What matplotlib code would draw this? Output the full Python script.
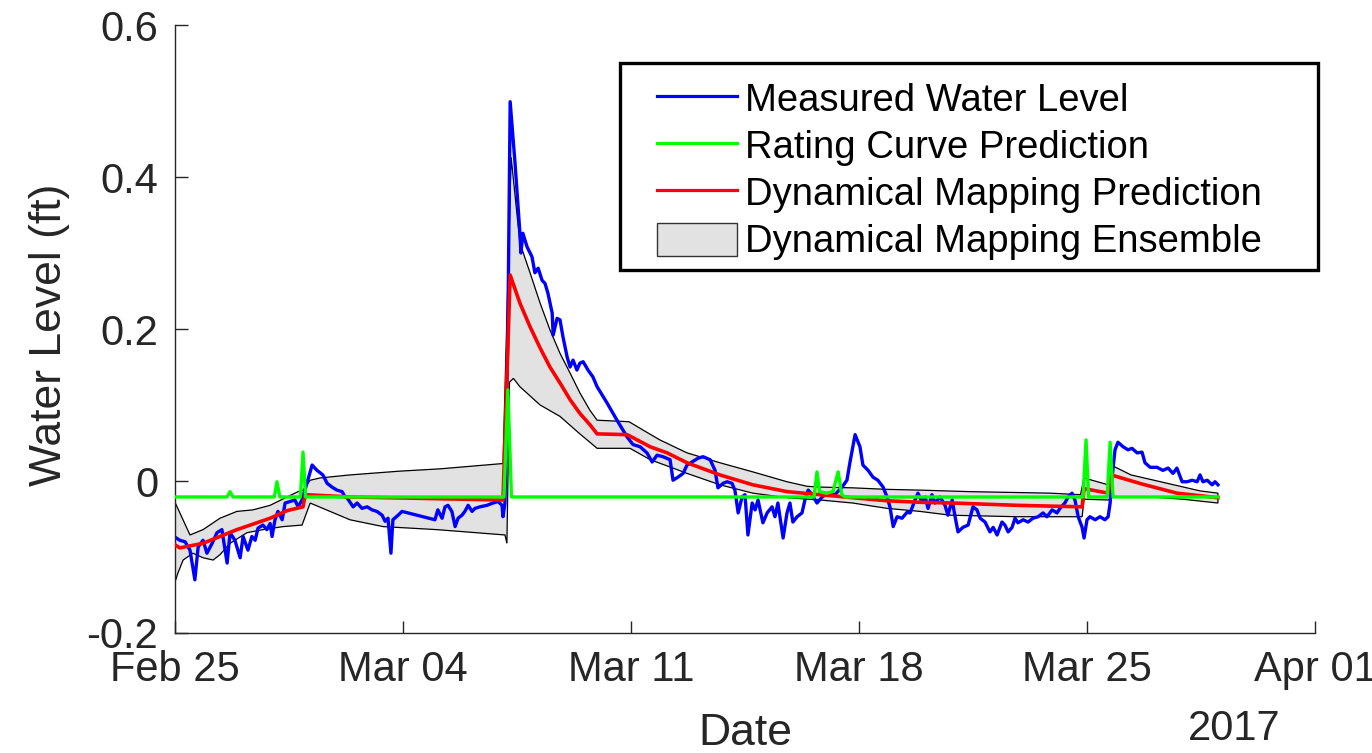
import matplotlib
matplotlib.use("Agg")
import matplotlib.pyplot as plt
import matplotlib.dates as mdates
from matplotlib.patches import Rectangle, Patch
from matplotlib.lines import Line2D
import numpy as np
import pandas as pd

plt.rcParams['font.family'] = ['Liberation Sans', 'DejaVu Sans']

start = pd.Timestamp('2017-02-25')

# days after Feb 25 2017, water level in ft
meas_days = [0.00, 0.15, 0.31, 0.46, 0.61, 0.71, 0.86, 0.98, 1.14, 1.29, 1.44, 1.60, 1.69, 1.84,
             2.00, 2.09, 2.24, 2.36, 2.46, 2.55, 2.70, 2.82, 2.92, 2.98, 3.07, 3.16, 3.29, 3.38,
             3.53, 3.68, 3.78, 3.90, 4.05, 4.21, 4.36, 4.54, 4.67, 4.82, 4.97, 5.13, 5.22, 5.28,
             5.47, 5.59, 5.74, 5.90, 6.05, 6.20, 6.36, 6.45, 6.54, 6.63, 6.69, 6.85, 6.97, 7.43,
             7.98, 8.07, 8.20, 8.29, 8.38, 8.50, 8.60, 8.69, 8.81, 8.90, 9.00, 9.12, 9.21, 9.36,
             9.58, 9.76, 9.92, 10.04, 10.07, 10.13, 10.22, 10.29, 10.44, 10.59, 10.62, 10.68,
             10.81, 10.96, 11.05, 11.15, 11.27, 11.36, 11.45, 11.58, 11.61, 11.73, 11.82, 11.91,
             12.04, 12.13, 12.22, 12.34, 12.43, 12.53, 12.68, 12.83, 12.96, 13.26, 13.57, 13.88,
             14.06, 14.28, 14.49, 14.65, 14.80, 14.98, 15.20, 15.29, 15.44, 15.60, 15.72, 15.87,
             16.06, 16.21, 16.43, 16.58, 16.67, 16.83, 16.95, 17.10, 17.19, 17.29, 17.41, 17.50,
             17.59, 17.72, 17.81, 17.90, 18.05, 18.18, 18.33, 18.42, 18.51, 18.67, 18.79, 18.88,
             18.97, 19.10, 19.25, 19.34, 19.44, 19.56, 19.71, 19.87, 20.05, 20.26, 20.48, 20.63,
             20.72, 20.88, 21.03, 21.12, 21.28, 21.43, 21.58, 21.74, 21.86, 21.95, 22.05, 22.17,
             22.32, 22.48, 22.57, 22.72, 22.81, 22.94, 23.03, 23.12, 23.24, 23.33, 23.49, 23.64,
             23.73, 23.86, 23.95, 24.04, 24.19, 24.35, 24.50, 24.62, 24.72, 24.87, 25.02, 25.12,
             25.24, 25.39, 25.48, 25.58, 25.70, 25.79, 25.88, 26.04, 26.19, 26.34, 26.50, 26.65,
             26.77, 26.93, 27.08, 27.17, 27.32, 27.42, 27.54, 27.63, 27.73, 27.85, 27.91, 28.00,
             28.09, 28.25, 28.40, 28.55, 28.65, 28.71, 28.77, 28.86, 28.95, 29.11, 29.26, 29.38,
             29.54, 29.69, 29.78, 29.94, 30.15, 30.33, 30.49, 30.64, 30.76, 30.92, 31.07, 31.23,
             31.38, 31.47, 31.56, 31.69, 31.84, 31.93, 32.02]
meas_level = [-0.074, -0.078, -0.080, -0.091, -0.130, -0.087, -0.078, -0.095, -0.082, -0.068,
              -0.064, -0.108, -0.068, -0.078, -0.101, -0.073, -0.091, -0.073, -0.078, -0.062,
              -0.058, -0.064, -0.056, -0.073, -0.051, -0.040, -0.051, -0.029, -0.027, -0.025,
              -0.034, -0.025, -0.003, 0.021, 0.014, 0.008, -0.003, -0.008, -0.012, -0.014,
              -0.021, -0.022, -0.034, -0.029, -0.036, -0.034, -0.038, -0.040, -0.045, -0.053,
              -0.049, -0.095, -0.051, -0.045, -0.040, -0.045, -0.051, -0.038, -0.049, -0.034,
              -0.032, -0.040, -0.060, -0.049, -0.045, -0.040, -0.032, -0.040, -0.036, -0.034,
              -0.032, -0.029, -0.027, -0.032, -0.047, -0.029, 0.200, 0.499, 0.418, 0.326,
              0.300, 0.326, 0.308, 0.295, 0.274, 0.280, 0.264, 0.260, 0.247, 0.221, 0.192,
              0.214, 0.212, 0.190, 0.163, 0.150, 0.159, 0.146, 0.155, 0.157, 0.146, 0.137,
              0.124, 0.103, 0.080, 0.058, 0.048, 0.045, 0.037, 0.025, 0.034, 0.032, 0.028,
              0.001, 0.005, 0.010, 0.021, 0.025, 0.030, 0.032, 0.028, 0.014, -0.009, -0.003,
              -0.001, -0.003, -0.012, -0.042, -0.021, -0.018, -0.071, -0.029, -0.038, -0.025,
              -0.055, -0.042, -0.034, -0.047, -0.029, -0.075, -0.042, -0.029, -0.054, -0.047,
              -0.042, -0.025, -0.012, -0.018, -0.029, -0.021, -0.016, -0.018, -0.008, 0.001,
              0.024, 0.061, 0.045, 0.021, 0.014, 0.005, 0.001, -0.008, -0.021, -0.034, -0.060,
              -0.047, -0.049, -0.041, -0.042, -0.025, -0.016, -0.028, -0.021, -0.036, -0.018,
              -0.029, -0.021, -0.032, -0.045, -0.025, -0.047, -0.067, -0.061, -0.058, -0.034,
              -0.038, -0.049, -0.054, -0.067, -0.061, -0.071, -0.054, -0.058, -0.067, -0.061,
              -0.049, -0.055, -0.051, -0.054, -0.049, -0.047, -0.042, -0.047, -0.038, -0.042,
              -0.036, -0.029, -0.021, -0.016, -0.025, -0.047, -0.061, -0.075, -0.051, -0.047,
              -0.051, -0.047, -0.051, -0.047, -0.029, 0.005, 0.041, 0.051, 0.045, 0.041,
              0.043, 0.037, 0.038, 0.024, 0.018, 0.018, 0.014, 0.017, 0.010, 0.017, -0.001,
              -0.001, 0.001, -0.001, 0.008, -0.001, 0.001, -0.005, -0.001, -0.005]

rating_days = [0.00, 1.60, 1.69, 1.78, 3.05, 3.13, 3.22, 3.85, 3.93, 4.01, 10.10, 10.22, 10.33,
               19.62, 19.71, 19.79, 20.00, 20.20, 20.36, 20.47, 20.58, 27.88, 27.97, 28.05,
               28.62, 28.71, 28.80, 32.02]
rating_level = [-0.021, -0.021, -0.014, -0.021, -0.021, -0.001, -0.021, -0.021, 0.038, -0.021,
                -0.021, 0.120, -0.021, -0.021, 0.012, -0.014, -0.016, -0.014, 0.012, -0.018,
                -0.021, -0.021, 0.054, -0.021, -0.021, 0.051, -0.021, -0.021]

dm_days = [0.00, 0.15, 0.86, 1.90, 2.92, 3.44, 3.93, 4.00, 5.37, 10.07, 10.29, 10.59, 10.90,
           11.21, 11.51, 11.82, 12.13, 12.43, 12.74, 12.96, 13.88, 14.06, 14.59, 15.11, 15.72,
           16.73, 17.74, 18.79, 19.80, 20.81, 21.86, 22.87, 23.89, 25.85, 27.85, 27.91, 28.65,
           28.74, 29.69, 30.76, 32.02]
dm_level = [-0.084, -0.088, -0.082, -0.064, -0.049, -0.039, -0.034, -0.018, -0.021, -0.025,
            0.271, 0.234, 0.203, 0.175, 0.150, 0.129, 0.107, 0.089, 0.074, 0.062, 0.061, 0.057,
            0.045, 0.037, 0.024, 0.008, -0.005, -0.014, -0.018, -0.022, -0.026, -0.028, -0.029,
            -0.032, -0.034, -0.010, -0.016, 0.008, -0.004, -0.016, -0.022]

ens_hi_days = [0.00, 0.46, 0.86, 1.38, 1.90, 2.39, 2.92, 3.44, 3.78, 3.93, 4.15, 4.45, 5.37,
               6.91, 8.14, 10.07, 10.32, 10.59, 10.90, 11.21, 11.51, 11.82, 12.13, 12.43, 12.74,
               12.96, 13.94, 14.37, 14.89, 15.72, 16.73, 17.74, 18.79, 19.41, 19.80, 20.81,
               21.86, 22.87, 24.40, 26.87, 27.80, 27.91, 28.65, 28.74, 29.35, 30.46, 31.47, 32.02]
ens_hi = [-0.028, -0.071, -0.064, -0.049, -0.040, -0.038, -0.032, -0.021, -0.014, -0.012,
          0.001, 0.004, 0.008, 0.013, 0.016, 0.023, 0.426, 0.313, 0.274, 0.234, 0.199, 0.168,
          0.142, 0.116, 0.093, 0.080, 0.078, 0.067, 0.054, 0.037, 0.024, 0.012, -0.001, -0.007,
          -0.008, -0.009, -0.011, -0.012, -0.014, -0.016, -0.018, 0.004, -0.005, 0.021, 0.008,
          -0.003, -0.013, -0.016]

ens_lo_days = [0.00, 0.09, 0.25, 0.55, 0.86, 1.17, 1.38, 1.69, 2.21, 2.70, 3.32, 3.90, 4.15,
               4.76, 5.37, 6.39, 8.04, 10.13, 10.19, 10.27, 10.39, 10.59, 11.21, 11.82, 12.43,
               12.96, 13.97, 14.59, 15.29, 15.72, 16.73, 17.74, 18.79, 19.80, 20.81, 21.86,
               22.87, 23.80, 25.85, 27.85, 27.91, 28.65, 28.80, 29.94, 30.95, 32.02]
ens_lo = [-0.133, -0.121, -0.104, -0.095, -0.101, -0.104, -0.097, -0.082, -0.068, -0.064,
          -0.060, -0.058, -0.029, -0.040, -0.051, -0.060, -0.064, -0.071, -0.082, 0.130, 0.135,
          0.124, 0.100, 0.085, 0.062, 0.043, 0.043, 0.028, 0.017, 0.010, -0.005, -0.016,
          -0.022, -0.025, -0.029, -0.036, -0.040, -0.045, -0.047, -0.047, -0.024, -0.025,
          -0.021, -0.021, -0.024, -0.029]

y_ticks = [-0.2, 0, 0.2, 0.4, 0.6]
y_ticklabels = ['-0.2', '0', '0.2', '0.4', '0.6']
x_ticks = ['2017-02-25', '2017-03-04', '2017-03-11', '2017-03-18', '2017-03-25', '2017-04-01']


def to_dates(days):
    return (start + pd.to_timedelta(np.array(days), unit='D')).to_numpy()


fig = plt.figure(figsize=(13.72, 7.53), dpi=100)
ax = fig.add_axes([175 / 1372, 1 - 633 / 753, 1140 / 1372, 608 / 753])

axcol = '#262626'
band_x = np.concatenate([to_dates(ens_hi_days), to_dates(ens_lo_days)[::-1]])
band_y = np.concatenate([ens_hi, ens_lo[::-1]])
ax.fill(band_x, band_y, facecolor='#e2e2e2', edgecolor='black', linewidth=0.9, zorder=1)

ax.plot(to_dates(meas_days), meas_level, color=(0, 0, 1), lw=2.4, zorder=2)
ax.plot(to_dates(dm_days), dm_level, color=(1, 0, 0), lw=2.6, zorder=3)
ax.plot(to_dates(rating_days), rating_level, color=(0, 1, 0), lw=2.4, zorder=3)

ax.set_ylim(-0.2, 0.6)
ax.set_xlim(pd.Timestamp('2017-02-25'), pd.Timestamp('2017-04-01'))
ax.set_yticks(y_ticks)
ax.set_yticklabels(y_ticklabels)
ax.set_xticks(pd.to_datetime(x_ticks))
ax.xaxis.set_major_formatter(mdates.DateFormatter('%b %d'))

for s in ['top', 'right']:
    ax.spines[s].set_visible(False)
for s in ['left', 'bottom']:
    ax.spines[s].set_color(axcol)
    ax.spines[s].set_linewidth(1.0)
ax.tick_params(axis='both', direction='in', length=9, width=1.0, color=axcol,
               labelcolor=axcol, labelsize=30)
ax.tick_params(axis='y', pad=12)
ax.tick_params(axis='x', pad=12)

ax.set_ylabel('Water Level (ft)', fontsize=32, color=axcol)
ax.yaxis.set_label_coords(-0.11, 0.49)
ax.yaxis.label.set_va('center')
ax.set_xlabel('Date', fontsize=32, color=axcol)
ax.xaxis.set_label_coords(0.5, -0.166)
ax.xaxis.label.set_va('center')
fig.text(1280 / 1372, 1 - 729 / 753, '2017', fontsize=30, color=axcol, ha='right', va='center')

# legend box
frame = Rectangle((620 / 1372, 1 - 270 / 753), 698 / 1372, 207 / 753, transform=fig.transFigure,
                  facecolor='white', edgecolor='black', linewidth=2.4, zorder=4)
fig.patches.append(frame)

handles = [Line2D([], [], color=(0, 0, 1), lw=2.3),
           Line2D([], [], color=(0, 1, 0), lw=2.3),
           Line2D([], [], color=(1, 0, 0), lw=2.3),
           Patch(facecolor='#e2e2e2', edgecolor='#333333', linewidth=1.0)]
labels = ['Measured Water Level', 'Rating Curve Prediction', 'Dynamical Mapping Prediction',
          'Dynamical Mapping Ensemble']
fs = 27.5
fs_px = fs * 100 / 72
leg = fig.legend(handles, labels, loc='upper left', bbox_to_anchor=(657 / 1372, 1 - 81 / 753),
                 frameon=False, fontsize=fs, handlelength=80 / fs_px, handletextpad=8 / fs_px,
                 labelspacing=(48 - fs_px) / fs_px, handleheight=36 / fs_px,
                 borderpad=0.0, borderaxespad=0.0)
leg.set_zorder(5)

fig.savefig('out.png', dpi=100)
